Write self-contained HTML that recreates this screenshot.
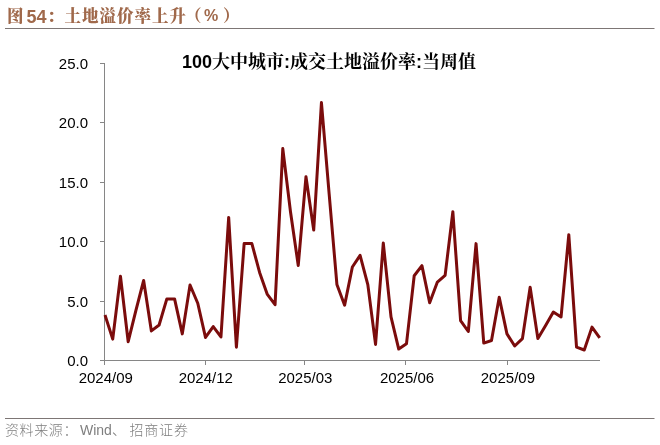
<!DOCTYPE html>
<html><head><meta charset="utf-8">
<style>
html,body{margin:0;padding:0;background:#fff;}
body{width:660px;height:445px;overflow:hidden;position:relative;}
svg{position:absolute;left:0;top:0;}
.ttl{font-family:"Liberation Sans","Noto Serif CJK SC",serif;font-weight:900;font-size:16.5px;fill:#a0694b;letter-spacing:1px;}
.d{font-weight:bold;font-size:18px;letter-spacing:0;}
.ct{font-family:"Liberation Sans","Noto Serif CJK SC",serif;font-weight:bold;font-size:18px;fill:#000;}
.yl{font-family:"Liberation Sans",sans-serif;font-size:15px;fill:#000;text-anchor:end;}
.xl{font-family:"Liberation Sans",sans-serif;font-size:15px;fill:#000;text-anchor:middle;}
.src{font-family:"Liberation Sans","Noto Sans CJK SC",sans-serif;font-size:14px;fill:#7f7f7f;font-weight:300;}
</style></head><body>
<svg width="660" height="445" viewBox="0 0 660 445">
<text class="ttl" x="7" y="22">图</text><text class="ttl d" x="26.5" y="23">54</text><text class="ttl" x="47" y="22">：</text><text class="ttl" x="64.5" y="22">土地溢价率上升</text><text class="ttl" x="185" y="22">（</text><text class="ttl d" x="204" y="21.2" style="font-size:16px">%</text><text class="ttl" x="223" y="22">）</text>
<rect x="5" y="28" width="649.5" height="1" fill="#7d7675"/>
<text class="ct" x="329" y="68" text-anchor="middle">100大中城市:成交土地溢价率:当周值</text>
<g stroke="#868686" stroke-width="1" fill="none" shape-rendering="crispEdges">
<line x1="104.5" y1="63" x2="104.5" y2="364.5"/>
<line x1="104" y1="360.5" x2="600" y2="360.5"/>
<line x1="100" y1="360.5" x2="104.5" y2="360.5"/><line x1="100" y1="301.5" x2="104.5" y2="301.5"/><line x1="100" y1="241.5" x2="104.5" y2="241.5"/><line x1="100" y1="182.5" x2="104.5" y2="182.5"/><line x1="100" y1="122.5" x2="104.5" y2="122.5"/><line x1="100" y1="63.5" x2="104.5" y2="63.5"/>
<line x1="104.5" y1="360" x2="104.5" y2="364.5"/><line x1="205.5" y1="360" x2="205.5" y2="364.5"/><line x1="304.5" y1="360" x2="304.5" y2="364.5"/><line x1="405.5" y1="360" x2="405.5" y2="364.5"/><line x1="507.5" y1="360" x2="507.5" y2="364.5"/>
</g>
<text class="yl" x="88" y="365.5">0.0</text><text class="yl" x="88" y="306.5">5.0</text><text class="yl" x="88" y="246.5">10.0</text><text class="yl" x="88" y="187.5">15.0</text><text class="yl" x="88" y="127.5">20.0</text><text class="yl" x="88" y="68.5">25.0</text>
<text class="xl" x="105.8" y="383">2024/09</text><text class="xl" x="205.8" y="383">2024/12</text><text class="xl" x="305.25" y="383">2025/03</text><text class="xl" x="407" y="383">2025/06</text><text class="xl" x="507.9" y="383">2025/09</text>
<polyline points="105.00,315.01 112.73,339.09 120.46,276.23 128.19,341.70 135.92,310.39 143.65,280.50 151.38,330.91 159.11,324.98 166.84,298.88 174.57,298.88 182.30,333.87 190.03,285.01 197.76,303.27 205.49,337.43 213.22,326.52 220.95,336.95 228.68,217.41 236.41,347.15 244.14,243.62 251.87,243.62 259.60,272.44 267.33,294.38 275.06,304.70 282.79,148.62 290.52,211.95 298.25,265.44 305.98,176.73 313.71,230.10 321.44,102.60 329.17,194.16 336.90,284.41 344.63,305.17 352.36,266.98 360.09,255.36 367.82,284.65 375.55,344.43 383.28,243.02 391.01,316.91 398.74,349.05 406.47,343.83 414.20,275.76 421.93,265.68 429.66,302.80 437.39,282.04 445.12,275.40 452.85,211.71 460.58,320.59 468.31,331.50 476.04,243.62 483.77,343.12 491.50,340.51 499.23,297.34 506.96,333.87 514.69,345.97 522.42,338.61 530.15,287.26 537.88,338.61 545.61,325.45 553.34,312.05 561.07,316.91 568.80,234.72 576.53,347.15 584.26,350.00 591.99,327.11 599.72,337.78" fill="none" stroke="#7b0c0c" stroke-width="3" stroke-linejoin="round" stroke-linecap="butt"/>
<rect x="5" y="418" width="649.5" height="1" fill="#7d7675"/>
<text class="src" x="5" y="434.5" style="letter-spacing:0.6px">资料来源：</text><text class="src" x="80" y="434.5">Wind</text><text class="src" x="112" y="434.5">、</text><text class="src" x="129.5" y="434.5" style="letter-spacing:0.8px">招商证券</text>
</svg>
</body></html>
